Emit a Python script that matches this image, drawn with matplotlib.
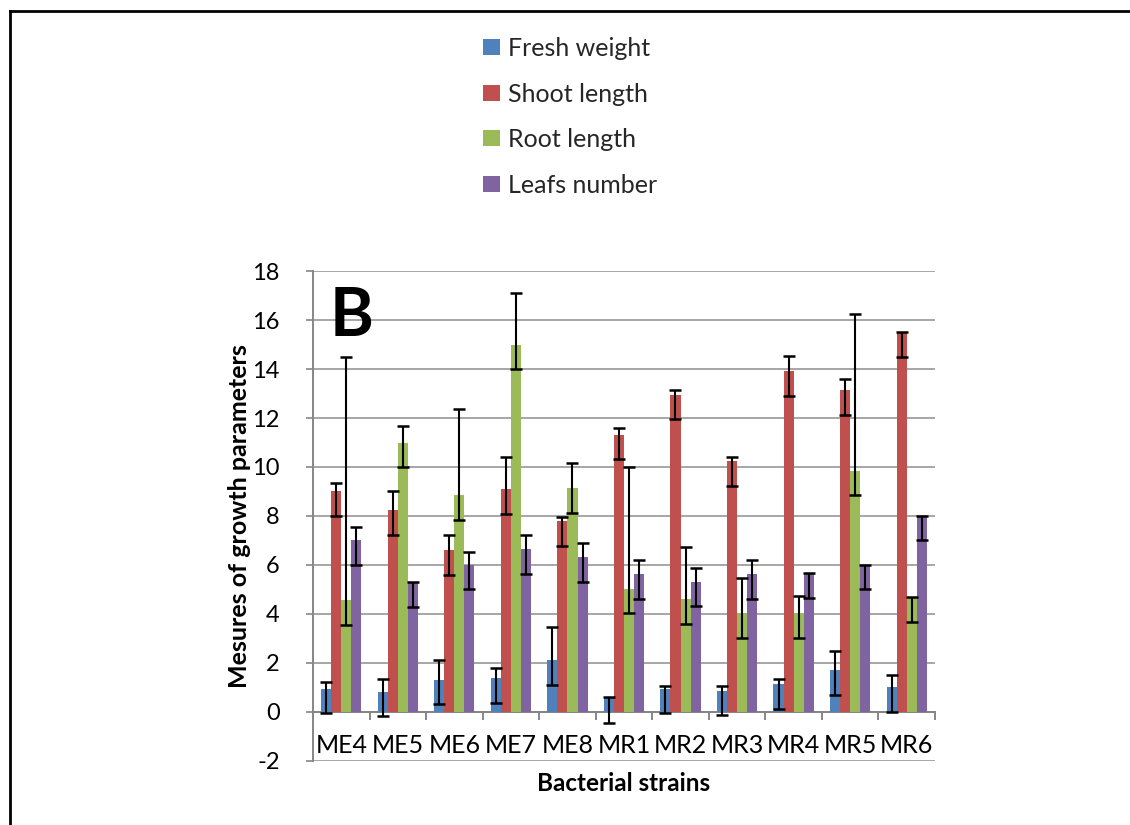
import matplotlib

matplotlib.use("Agg")
import matplotlib.pyplot as plt
import numpy as np
from matplotlib.lines import Line2D
from matplotlib.patches import Patch
from matplotlib.ticker import FuncFormatter

plt.rcParams["font.family"] = ["Lato", "DejaVu Sans"]

# ── Data ───────────────────────────────────────────────────────────────
strains = ["ME4", "ME5", "ME6", "ME7", "ME8", "MR1", "MR2", "MR3", "MR4", "MR5", "MR6"]
series_names = ["Fresh weight", "Shoot length", "Root length", "Leafs number"]

fresh_weight = [0.95, 0.82, 1.31, 1.37, 2.11, 0.57, 0.94, 0.86, 1.14, 1.71, 1.01]
shoot_length = [9.0, 8.24, 6.61, 9.09, 7.78, 11.32, 12.95, 10.24, 13.9, 13.14, 15.5]
root_length = [4.57, 11.0, 8.84, 15.0, 9.14, 5.02, 4.61, 4.03, 4.03, 9.85, 4.68]
leafs_number = [7.0, 5.27, 6.0, 6.64, 6.31, 5.63, 5.31, 5.63, 5.66, 6.0, 8.0]

# error bars (minus / plus amounts)
fresh_err_lo = [1.0, 1.0, 1.0, 1.0, 1.0, 1.0, 1.0, 1.0, 1.0, 1.0, 1.0]
fresh_err_hi = [0.27, 0.53, 0.81, 0.41, 1.35, 0.04, 0.13, 0.21, 0.19, 0.78, 0.51]
shoot_err_lo = [1.0, 1.0, 1.0, 1.0, 1.0, 1.0, 1.0, 1.0, 1.0, 1.0, 1.0]
shoot_err_hi = [0.36, 0.76, 0.63, 1.32, 0.19, 0.28, 0.18, 0.17, 0.63, 0.44, 0.0]
root_err_lo = [1.0, 1.0, 1.0, 1.0, 1.0, 1.0, 1.0, 1.0, 1.0, 1.0, 1.0]
root_err_hi = [9.91, 0.69, 3.51, 2.1, 1.01, 4.97, 2.14, 1.45, 0.72, 6.38, 0.0]
leafs_err_lo = [1.0, 1.0, 1.0, 1.0, 1.0, 1.0, 1.0, 1.0, 1.0, 1.0, 1.0]
leafs_err_hi = [0.57, 0.05, 0.54, 0.6, 0.59, 0.59, 0.57, 0.59, 0.0, 0.0, 0.0]

yticks = [-2, 0, 2, 4, 6, 8, 10, 12, 14, 16, 18]

# ── Colours ────────────────────────────────────────────────────────────
COLORS = ["#4F81BD", "#C0504D", "#9BBB59", "#8064A2"]
C_GRID = "#A6A6A6"
C_AXIS = "#868686"

values = [fresh_weight, shoot_length, root_length, leafs_number]
err_lo = [fresh_err_lo, shoot_err_lo, root_err_lo, leafs_err_lo]
err_hi = [fresh_err_hi, shoot_err_hi, root_err_hi, leafs_err_hi]

fig = plt.figure(figsize=(11.3, 8.25), dpi=100)
fig.patch.set_facecolor("white")

ax = fig.add_axes([0.277, 0.0776, 0.5504, 0.5939])

x = np.arange(len(strains))
bw = 0.178
for i, (vals, lo, hi, col) in enumerate(zip(values, err_lo, err_hi, COLORS)):
    pos = x + (i - 1.5) * bw
    ax.bar(pos, vals, width=bw, color=col, zorder=2, linewidth=0)
    ax.errorbar(
        pos,
        vals,
        yerr=[lo, hi],
        fmt="none",
        ecolor="black",
        elinewidth=1.5,
        capsize=4.3,
        capthick=1.8,
        zorder=4,
    )

ax.set_xlim(-0.5, len(strains) - 0.5)
ax.set_ylim(-2, 18)
ax.set_yticks(yticks)
ax.yaxis.set_major_formatter(FuncFormatter(lambda v, _: f"{int(v)}"))
ax.yaxis.grid(True, color=C_GRID, linewidth=1.4, zorder=0)
ax.set_axisbelow(True)
ax.set_xticks([])
for s in ["top", "right", "bottom"]:
    ax.spines[s].set_visible(False)
ax.spines["left"].set_color(C_AXIS)
ax.spines["left"].set_linewidth(1.4)
ax.tick_params(axis="y", direction="out", length=5, width=1.2, color=C_AXIS,
               labelsize=17, pad=19)

# category axis at zero with tick marks between groups
ax.axhline(0, color=C_AXIS, linewidth=1.4, zorder=1)
for b in np.arange(len(strains) + 1) - 0.5:
    ax.plot([b, b], [0, -0.28], color=C_AXIS, linewidth=1.4, zorder=1, clip_on=False)
for xi, name in zip(x, strains):
    ax.text(xi, -1.35, name, ha="center", va="center", fontsize=18)

ax.text(-0.21, 15.35, "B", fontsize=48, fontweight="bold", va="baseline", ha="left")

ax.set_xlabel("Bacterial strains", fontsize=17.5, fontweight="bold", labelpad=8)
ax.set_ylabel("Mesures of growth parameters", fontsize=18, fontweight="bold", labelpad=1)

# ── Legend ────────────────────────────────────────────────────────────
handles = [Patch(facecolor=c, edgecolor="none") for c in COLORS]
fig.legend(
    handles,
    series_names,
    loc="upper left",
    bbox_to_anchor=(0.427, 0.955),
    frameon=False,
    fontsize=18,
    labelspacing=0.9,
    handlelength=0.68,
    handleheight=0.6,
    handletextpad=0.35,
    borderpad=0,
    borderaxespad=0,
    labelcolor="#262626",
)

# partial frame around the figure (top and left edges)
fig.add_artist(Line2D([10 / 1130, 10 / 1130], [0, 1 - 11 / 825], transform=fig.transFigure,
                      color="black", linewidth=2))
fig.add_artist(Line2D([10 / 1130, 1], [1 - 11 / 825, 1 - 11 / 825], transform=fig.transFigure,
                      color="black", linewidth=2))

fig.savefig("out.png", dpi=100, facecolor="white")
plt.close(fig)
